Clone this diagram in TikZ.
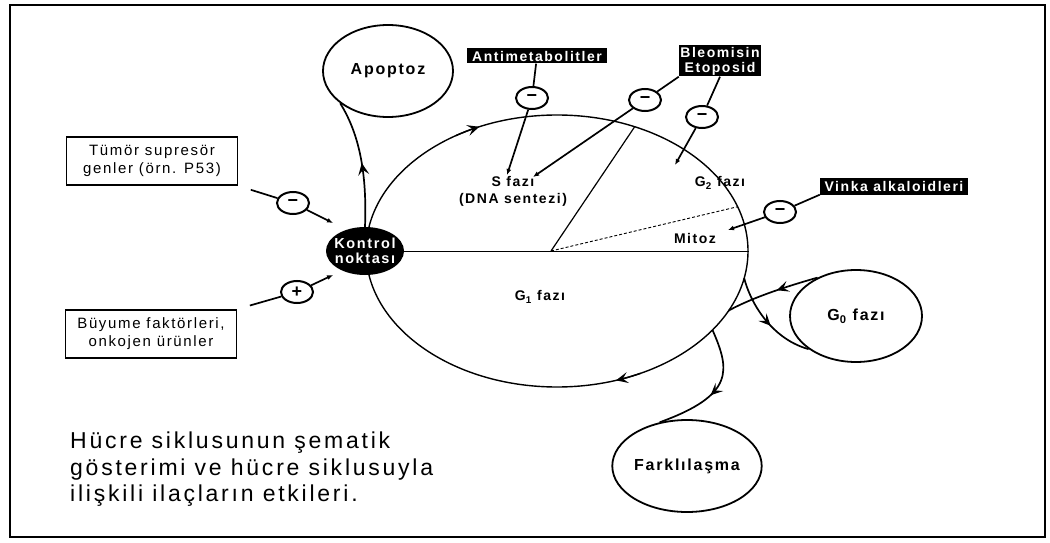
\documentclass[tikz,border=0pt]{standalone}
\usepackage{fontspec}
\setmainfont{Liberation Sans}[LetterSpace=11]
\newfontfamily\capfont{Liberation Sans}[LetterSpace=12]
\newfontfamily\signfont{Liberation Sans}
\usetikzlibrary{shapes.geometric,arrows.meta,calc,decorations.markings}

\tikzset{
Cycle/.style={draw=black, ellipse, inner sep=0pt, line width=1.4pt,
        minimum width=382pt, minimum height=272pt},
Kontrol/.style={fill=black, ellipse, inner xsep=-14pt, inner ysep=-8pt, minimum width=78pt,
        minimum height=48pt, text=white, align=center, font=\bfseries\fontsize{14.5}{15}\selectfont},
Phase/.style={draw=black, ellipse, inner sep=0pt, line width=1.8pt,
        font=\bfseries\fontsize{16}{18}\selectfont},
Gene/.style={draw=black, rectangle, line width=1.8pt, minimum width=171pt,
        minimum height=48pt, align=center, font=\fontsize{15}{18}\selectfont},
Drug/.style={fill=black, text=white, rectangle, inner sep=1pt, align=center,
        font=\bfseries\fontsize{14}{15}\selectfont},
Inh/.style={draw=black, ellipse, line width=2pt, minimum width=32pt,
        minimum height=22pt, inner sep=0pt, font=\signfont\bfseries\fontsize{18}{18}\selectfont},
PhaseLabel/.style={align=center, font=\bfseries\fontsize{14}{17}\selectfont},
Caption/.style={align=left, inner sep=0pt, font=\capfont\fontsize{23}{26.5}\selectfont},
InhLine/.style={draw=black, line width=1.7pt},
InhArrow/.style={arrows={-Latex[length=6pt,width=5pt]}, draw=black, line width=1.7pt},
FlowLine/.style={draw=black, line width=1.7pt, postaction={decorate},
        decoration={markings, mark=at position #1 with
        {\arrow{Stealth[length=12pt,width=11pt,inset=5pt]}}}},
FlowLine/.default=0.5,
FlowTip/.style={arrows={-Stealth[length=12pt,width=11pt,inset=5pt]}, line width=1.4pt},
}

\begin{document}
\begin{tikzpicture}[x=1pt,y=-1pt]
	\useasboundingbox (0,0) rectangle (1050,543);
	\draw[line width=1.8pt] (10,5) rectangle (1045,537);

	% cell cycle
	\node[Cycle] (Cyc) at (557,251) {};
	\coordinate (Hub) at (551,251);
	\draw[line width=1pt] (365,251) -- (Cyc.east);
	\draw[line width=1.2pt] (Hub) -- ($(Cyc.center)+(-66:191 and 136)$);
	\draw[line width=0.9pt, densely dashed] (Hub) -- ($(Cyc.center)+(-19:191 and 136)$);
	\draw[FlowTip] ($(Cyc.center)+(-122:191 and 136)$) arc[start angle=-122, end angle=-114, x radius=191, y radius=136];
	\draw[FlowTip] ($(Cyc.center)+(64:191 and 136)$) arc[start angle=64, end angle=72, x radius=191, y radius=136];
	\node[Kontrol] (Kont) at (365,251) {Kontrol\\noktası};

	\node[PhaseLabel] (S) at (513,191) {S fazı\\(DNA sentezi)};
	\node[PhaseLabel] (G2) at (720,183) {G\textsubscript{2} fazı};
	\node[PhaseLabel] (M) at (695,238) {Mitoz};
	\node[PhaseLabel] (G1) at (540,297) {G\textsubscript{1} fazı};

	% outcomes
	\node[Phase, minimum width=130pt, minimum height=92pt] (Apop) at (388,71) {Apoptoz};
	\node[Phase, minimum width=132pt, minimum height=92pt] (G0) at (856,316) {G\textsubscript{0} fazı};
	\node[Phase, minimum width=130pt, minimum height=92pt] (Fark) at (687,466) {Farklılaşma};

	\draw[FlowLine=0.5] (Kont.north) .. controls (367,175) and (360,135) .. (Apop.214);
	\coordinate (E0) at ($(Cyc.center)+(11.5:191 and 136)$);
	\draw[FlowLine=0.55] (E0) .. controls (752,308) and (775,340) .. (G0.215);
	\coordinate (R0) at ($(Cyc.center)+(26:191 and 136)$);
	\draw[FlowLine=0.45] (G0.135) .. controls (795,284) and (755,296) .. (R0);
	\coordinate (F0) at ($(Cyc.center)+(35.5:191 and 136)$);
	\draw[FlowLine=0.55] (F0) .. controls (730,370) and (735,395) .. (Fark.122);

	% regulators and drugs
	\node[Gene] (Sup) at (152,161) {Tümör supresör\\genler (örn. P53)};
	\node[Gene] (Buy) at (151,334) {Büyume faktörleri,\\onkojen ürünler};
	\node[Drug, minimum width=140pt, minimum height=15pt] (Anti) at (537,56) {Antimetabolitler};
	\node[Drug, minimum width=82pt, minimum height=31pt] (Bleo) at (720,61) {Bleomisin\\Etoposid};
	\node[Drug, minimum width=148pt, minimum height=17pt] (Vinka) at (894,186) {Vinka alkaloidleri};

	\foreach \n/\x/\y/\s in {InA/532/98/−, InB1/645/100/−, InB2/702/117/−,
	        InV/780/212/−, InT/293/203/−, InP/297/292/+}
		\node[Inh] (\n) at (\x,\y) {\s};

	\coordinate (tA) at (507,175);
	\coordinate (tB1) at (533,177);
	\coordinate (tB2) at (675,165);
	\coordinate (tV) at (728,230);
	\coordinate (tT) at (333,223);
	\coordinate (tP) at (333,275);

	\draw[InhLine] (Anti) -- (InA);
	\draw[InhArrow] (InA) -- (tA);
	\draw[InhLine] (Bleo.south west) -- (InB1);
	\draw[InhArrow] (InB1) -- (tB1);
	\draw[InhLine] (Bleo.south) -- (InB2);
	\draw[InhArrow] (InB2) -- (tB2);
	\draw[InhLine] (Vinka.south west) -- (InV);
	\draw[InhArrow] (InV) -- (tV);
	\draw[InhLine, shorten <=13pt] (Sup.south east) -- (InT);
	\draw[InhArrow] (InT) -- (tT);
	\draw[InhLine, shorten <=13pt] (Buy.north east) -- (InP);
	\draw[InhArrow] (InP) -- (tP);

	\node[Caption, anchor=north west] (Cap) at (70,432) {Hücre siklusunun şematik\\gösterimi ve hücre siklusuyla\\ilişkili ilaçların etkileri.};
\end{tikzpicture}
\end{document}
